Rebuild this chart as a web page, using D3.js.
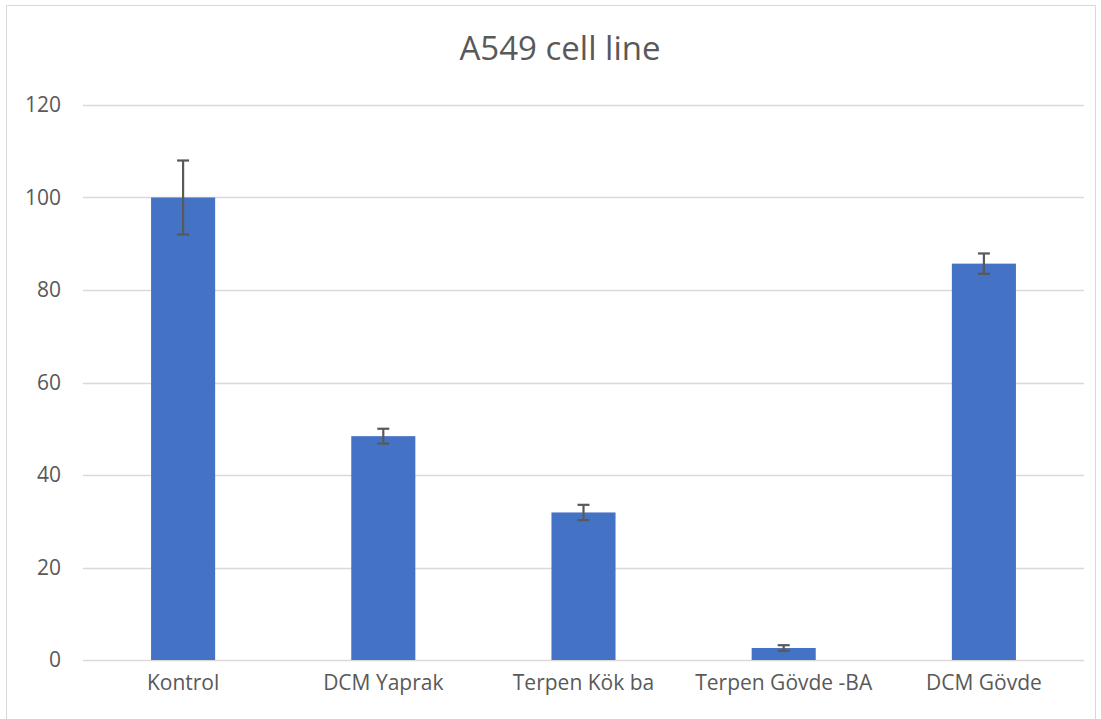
<!DOCTYPE html>
<html><head><meta charset="utf-8">
<script src="https://cdn.jsdelivr.net/npm/d3@7"></script>
<style>body{margin:0;background:#fff;}svg{display:block;font-family:"Open Sans",sans-serif;}</style>
</head><body>
<svg id="chart" width="1101" height="719"></svg>
<script>
const categories = ["Kontrol", "DCM Yaprak", "Terpen Kök ba", "Terpen Gövde -BA", "DCM Gövde"];
const values = [100, 48.4, 31.9, 2.6, 85.7];
const errors = [8, 1.6, 1.65, 0.6, 2.2];
const yTicks = [0, 20, 40, 60, 80, 100, 120];
const title = "A549 cell line";

(function () {
const svg = d3.select("#chart");
const FONT = "'Open Sans',sans-serif";
svg.append("rect").attr("x", 6.5).attr("y", 5.5).attr("width", 1089).attr("height", 720)
  .attr("fill", "#fff").attr("stroke", "#d9d9d9").attr("stroke-width", 1);

const pLeft = 83, pRight = 1084, pTop = 105, pBottom = 660;
const x = d3.scaleBand().domain(categories).range([pLeft, pRight]).paddingInner(0.68).paddingOuter(0.34);
const y = d3.scaleLinear().domain([0, 120]).range([pBottom, pTop]);

svg.append("g").selectAll("line").data(yTicks).join("line")
  .attr("x1", pLeft).attr("x2", pRight)
  .attr("y1", d => Math.round(y(d)) + 0.5).attr("y2", d => Math.round(y(d)) + 0.5)
  .attr("stroke", "#d9d9d9").attr("stroke-width", 1.3);

const yAxis = d3.axisLeft(y).tickValues(yTicks).tickSize(0).tickPadding(0);
const ya = svg.append("g").attr("transform", "translate(61,0)").call(yAxis);
ya.select(".domain").remove();
ya.selectAll("text").attr("fill", "#595959").attr("font-size", 21).attr("font-family", FONT);

svg.append("g").selectAll("rect").data(categories).join("rect")
  .attr("x", d => x(d)).attr("width", x.bandwidth())
  .attr("y", (d, i) => y(values[i])).attr("height", (d, i) => y(0) - y(values[i]))
  .attr("fill", "#4472c4");

const eg = svg.append("g").attr("stroke", "#595959").attr("stroke-width", 2.2);
categories.forEach((c, i) => {
  const cx = x(c) + x.bandwidth() / 2;
  const y1 = y(values[i] + errors[i]), y2 = y(values[i] - errors[i]);
  eg.append("line").attr("x1", cx).attr("x2", cx).attr("y1", y1).attr("y2", y2);
  eg.append("line").attr("x1", cx - 6).attr("x2", cx + 6).attr("y1", y1).attr("y2", y1);
  eg.append("line").attr("x1", cx - 6).attr("x2", cx + 6).attr("y1", y2).attr("y2", y2);
});

const xAxis = d3.axisBottom(x).tickSize(0).tickPadding(0);
const xa = svg.append("g").attr("transform", "translate(0,675)").call(xAxis);
xa.select(".domain").remove();
xa.selectAll("text").attr("fill", "#595959").attr("font-size", 21).attr("font-family", FONT);

svg.append("text").attr("x", 560).attr("y", 60).attr("text-anchor", "middle")
  .attr("fill", "#595959").attr("font-size", 33).attr("font-family", FONT).text(title);
})();
</script>
</body></html>
